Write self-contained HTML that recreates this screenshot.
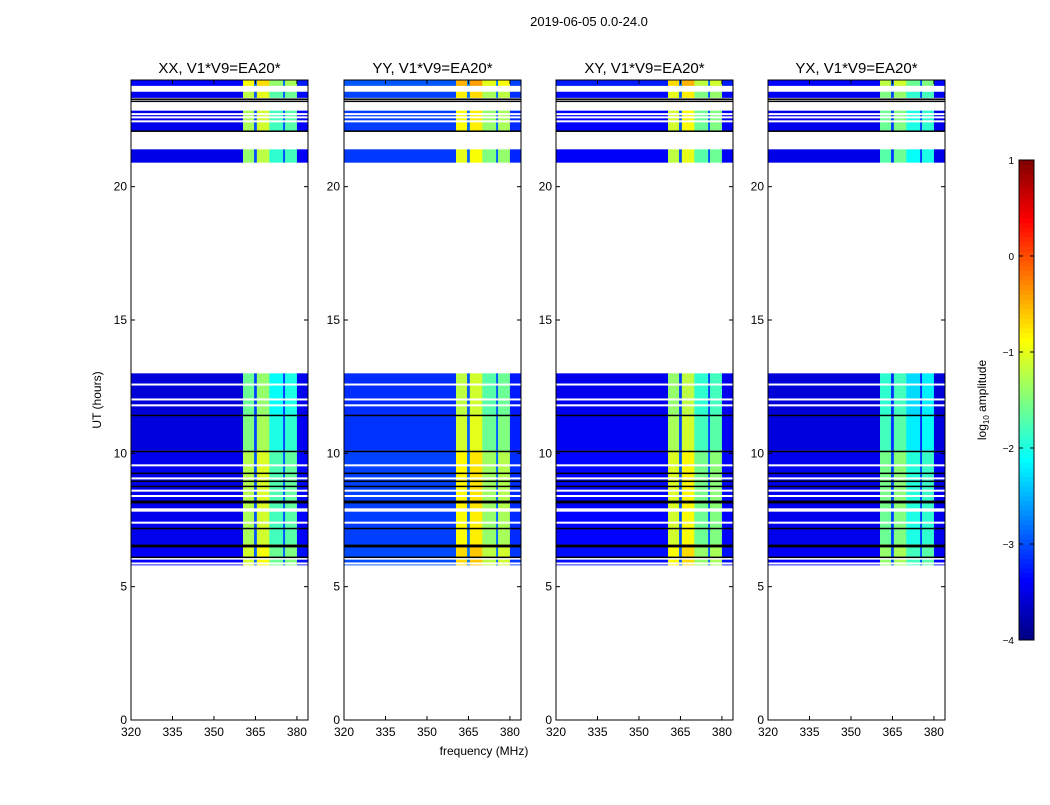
<!DOCTYPE html>
<html><head><meta charset="utf-8">
<style>
body{margin:0;background:#fff;font-family:"Liberation Sans",sans-serif;}
svg text{font-family:"Liberation Sans",sans-serif;}
</style></head>
<body>
<svg id="c" width="1050" height="800" xmlns="http://www.w3.org/2000/svg">
<text x="589" y="26" font-size="13" text-anchor="middle">2019-06-05 0.0-24.0</text>
<text x="484" y="755" font-size="12" text-anchor="middle">frequency (MHz)</text>
<text transform="translate(101,400) rotate(-90)" font-size="12" text-anchor="middle">UT (hours)</text>
<text transform="translate(986,400) rotate(-90)" font-size="12" text-anchor="middle">log<tspan font-size="8" dy="3">10</tspan><tspan dy="-3"> amplitude</tspan></text>
</svg>
<script>
const panelTitles = ["XX, V1*V9=EA20*","YY, V1*V9=EA20*","XY, V1*V9=EA20*","YX, V1*V9=EA20*"];
const bandEdges = [320,360.5,364.5,365.5,370,375,375.7,380,384];
const levelsXX = [-3.5,-1.4,-3.0,-1.2,-1.9,-3.0,-1.8,-3.4];
const levelsYY = [-3.1,-1.0,-2.9,-0.9,-1.5,-2.9,-1.4,-3.2];
const levelsXY = [-3.4,-1.2,-3.0,-1.0,-1.7,-3.0,-1.6,-3.4];
const levelsYX = [-3.5,-1.7,-3.1,-1.6,-2.1,-3.1,-2.0,-3.5];
const segStart = [5.8,6.6,7.9,10.1,11.4,20.9,22.1,23.33,23.78];
const segEnd   = [6.6,7.9,10.1,11.4,13.0,21.4,22.85,23.56,24.0];
const segOffset= [0.3,0.1,0.15,-0.1,-0.2,0.0,0.1,0.2,0.5];
const whiteLines = [12.58,12.02,11.8,9.55,9.06,8.6,8.4,7.9,7.85,7.4,6.05,5.87,22.72,22.6,22.45];
const blackLines = [11.42,10.07,9.25,8.95,8.76,8.2,8.15,7.18,6.55,6.5,6.1,23.2,23.28,22.08];
const xTicks = [320,335,350,365,380];
const yTicks = [0,5,10,15,20];
const cbTicks = [1,0,-1,-2,-3,-4];

const NS="http://www.w3.org/2000/svg";
const svg=document.getElementById('c');
const panelLeft=[131,344,556,768], PW=177, PT=80, PB=720;
const allLevels=[levelsXX,levelsYY,levelsXY,levelsYX];
function xs(f,i){return panelLeft[i]+(f-320)/(384-320)*PW;}
function ys(h){return PB-h/24*(PB-PT);}
function jet(v){
  let t=Math.max(0,Math.min(1,(v+4)/5));
  const r=Math.max(0,Math.min(1,1.5-Math.abs(4*t-3)));
  const g=Math.max(0,Math.min(1,1.5-Math.abs(4*t-2)));
  const b=Math.max(0,Math.min(1,1.5-Math.abs(4*t-1)));
  return `rgb(${Math.round(r*255)},${Math.round(g*255)},${Math.round(b*255)})`;
}
function mk(tag,attrs){const e=document.createElementNS(NS,tag);for(const k in attrs)e.setAttribute(k,attrs[k]);svg.appendChild(e);return e;}

for(let p=0;p<4;p++){
  const lv=allLevels[p];
  for(let s=0;s<segStart.length;s++){
    for(let b=0;b<lv.length;b++){
      const bright = lv[b]>-2.5;
      const v = lv[b] + (bright?segOffset[s]:segOffset[s]*0.3);
      const x0=xs(bandEdges[b],p), x1=xs(bandEdges[b+1],p);
      const y0=ys(segEnd[s]), y1=ys(segStart[s]);
      const r=mk('rect',{x:x0,y:y0,width:x1-x0+0.3,height:y1-y0,fill:jet(v)});
      
      
    }
  }
  for(const h of whiteLines){
    const l=mk('rect',{x:panelLeft[p],y:ys(h)-1,width:PW,height:2,fill:'#fff'});
    
    
  }
  for(const h of blackLines){
    const l=mk('rect',{x:panelLeft[p],y:ys(h)-0.75,width:PW,height:1.5,fill:'#000'});
    
    
  }
  const fr=mk('rect',{x:panelLeft[p],y:PT,width:PW,height:PB-PT,fill:'none',stroke:'#000','stroke-width':1});
  
  
  const tt=mk('text',{x:panelLeft[p]+PW/2,y:73,'font-size':15,'text-anchor':'middle'});
  tt.textContent=panelTitles[p];
  
  
  for(const f of xTicks){
    const x=xs(f,p);
    mk('line',{x1:x,x2:x,y1:PB,y2:PB-4,stroke:'#000'});
    mk('line',{x1:x,x2:x,y1:PT,y2:PT+4,stroke:'#000'});
    const t=mk('text',{x:x,y:PB+16,'font-size':12,'text-anchor':'middle'});
    t.textContent=f;
    
    
  }
  for(const h of yTicks){
    const y=ys(h);
    mk('line',{x1:panelLeft[p],x2:panelLeft[p]+4,y1:y,y2:y,stroke:'#000'});
    mk('line',{x1:panelLeft[p]+PW,x2:panelLeft[p]+PW-4,y1:y,y2:y,stroke:'#000'});
    const t=mk('text',{x:panelLeft[p]-4,y:y+4,'font-size':12,'text-anchor':'end'});
    t.textContent=h;
    
    
  }
}
const cbX=1019,cbW=15,cbT=160,cbB=640;
for(let i=0;i<100;i++){
  const v=-4+5*(i+0.5)/100;
  const y=cbB-(i+1)*(cbB-cbT)/100;
  const r=mk('rect',{x:cbX,y:y,width:cbW,height:(cbB-cbT)/100+0.5,fill:jet(v)});
  
  
}
const cbf=mk('rect',{x:cbX,y:cbT,width:cbW,height:cbB-cbT,fill:'none',stroke:'#000'});


for(const v of cbTicks){
  const y=cbB-(v+4)/5*(cbB-cbT);
  mk('line',{x1:cbX,x2:cbX+4,y1:y,y2:y,stroke:'#000'});
  mk('line',{x1:cbX+cbW,x2:cbX+cbW-4,y1:y,y2:y,stroke:'#000'});
  const t=mk('text',{x:cbX-5,y:y+4,'font-size':10,'text-anchor':'end'});
  t.textContent=v<0?'\u2212'+(-v):v;
  
  
}
</script>
</body></html>
